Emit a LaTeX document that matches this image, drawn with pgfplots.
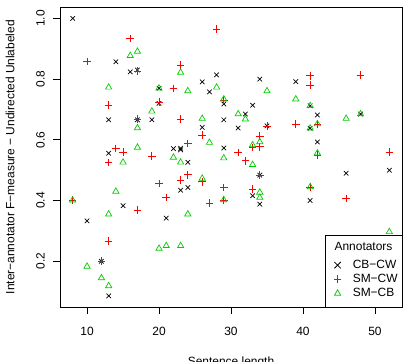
\documentclass[border=0pt]{standalone}
\usepackage{fontspec}
\setmainfont{Liberation Sans}
\usepackage{pgfplots}
\pgfplotsset{compat=1.18}
\definecolor{rgreen}{RGB}{0,205,0}
\definecolor{rred}{RGB}{255,0,0}

\begin{document}
\fontsize{12}{14}\selectfont
\begin{tikzpicture}
\begin{axis}[name=ax, at={(0,0)}, anchor=south west,
  scale only axis, width=342bp, height=299.7bp,
  xmin=6.24, xmax=53.76, ymin=0.0494, ymax=1.0366,
  xtick={10,20,30,40,50}, xticklabels={10,20,30,40,50},
  ytick={0.2,0.4,0.6,0.8,1.0}, yticklabels={0.2,0.4,0.6,0.8,1.0},
  tick pos=left, tick align=outside, major tick length=7bp,
  every tick/.style={black, line width=0.7bp},
  axis line style={line width=0.8bp},
  xticklabel style={font=\fontsize{12}{14}\selectfont, yshift=-9bp},
  yticklabel style={font=\fontsize{12}{14}\selectfont, rotate=90, anchor=south, yshift=4bp},
  xlabel={Sentence length},
  ylabel={Inter−annotator F−measure − Undirected Unlabeled},
  xlabel style={font=\fontsize{12}{14}\selectfont, at={(axis description cs:0.5,0)}, anchor=base, yshift=-59bp},
  ylabel style={font=\fontsize{12}{14}\selectfont, at={(axis description cs:-0.1462,0.5)}, anchor=center},
  legend style={draw=none, fill=none, at={(axis description cs:0.7901,0.0924)}, anchor=west,
    font=\fontsize{12}{14}\selectfont},
  legend cell align=left,
]
\addlegendimage{legend image code/.code={\draw[draw=black, line width=0.75bp] (0.3cm-3.2bp,-3.2bp) -- (0.3cm+3.2bp,3.2bp) (0.3cm-3.2bp,3.2bp) -- (0.3cm+3.2bp,-3.2bp); \path (0.3cm-3.8bp,0bp) (0.3cm+3.8bp,0bp);}}
\addlegendentry{\hspace{9bp}CB−CW}
\addlegendimage{legend image code/.code={\draw[draw=rred, line width=0.8bp] (0.3cm,-3.8bp) -- (0.3cm,3.8bp) (0.3cm-3.8bp,0bp) -- (0.3cm+3.8bp,0bp);}}
\addlegendentry{\hspace{9bp}SM−CW}
\addlegendimage{legend image code/.code={\draw[draw=rgreen, line width=0.75bp] (0.3cm,3.6bp) -- (0.3cm+3.118bp,-1.8bp) -- (0.3cm-3.118bp,-1.8bp) -- cycle; \path (0.3cm-3.8bp,0bp) (0.3cm+3.8bp,0bp);}}
\addlegendentry{\hspace{9bp}SM−CB}
\addplot[forget plot, only marks, color=black, mark=x, mark size=3.2bp, line width=0.7bp] table {
x y
8 1.0
14 0.857
16 0.824
17 0.83
20 0.77
20 0.72
13 0.666
17 0.666
19 0.666
13 0.556
15 0.383
10 0.333
21 0.342
12 0.2
13 0.086
23 0.434
24 0.443
34 0.484
33 0.416
34 0.388
22 0.571
23 0.567
23 0.572
24 0.526
28 0.814
26 0.791
34 0.80
27 0.758
29 0.718
33 0.714
29 0.666
32 0.685
35 0.646
26 0.641
31 0.639
29 0.573
39 0.792
41 0.712
42 0.682
48 0.685
41 0.638
42 0.593
46 0.49
52 0.50
41 0.40
};
\addplot[forget plot, only marks, color=rred, mark=+, mark size=3.8bp, line width=0.7bp] table {
x y
16 0.934
10 0.858
17 0.827
20 0.725
13 0.714
17 0.668
14 0.572
15 0.56
19 0.547
13 0.526
20 0.456
21 0.41
8 0.401
17 0.368
13 0.267
12 0.2
23 0.467
24 0.485
26 0.462
27 0.391
29 0.443
29 0.402
33 0.438
34 0.484
32 0.531
31 0.558
28 0.965
23 0.847
22 0.769
29 0.73
23 0.668
35 0.646
26 0.616
34 0.613
24 0.588
33 0.575
34 0.577
48 0.813
41 0.811
41 0.78
39 0.652
42 0.652
42 0.55
52 0.56
41 0.445
46 0.407
};
\addplot[forget plot, only marks, color=rgreen, mark=triangle, mark size=3.6bp, line width=0.7bp] table {
x y
16 0.877
17 0.891
13 0.773
20 0.77
19 0.694
17 0.639
17 0.575
15 0.526
14 0.43
8 0.401
13 0.355
20 0.242
21 0.251
10 0.183
12 0.145
13 0.119
23 0.251
24 0.355
26 0.473
29 0.402
34 0.427
34 0.41
33 0.518
29 0.54
22 0.542
23 0.526
23 0.822
24 0.761
28 0.773
35 0.761
29 0.734
26 0.67
31 0.685
32 0.668
27 0.591
33 0.583
34 0.593
39 0.734
41 0.712
46 0.67
48 0.685
41 0.638
42 0.652
42 0.556
41 0.445
52 0.297
};
\end{axis}
\draw[line width=0.7bp] ([xshift=-77bp]ax.south east) rectangle ([yshift=72bp]ax.south east);
\node[anchor=base, font=\fontsize{12}{14}\selectfont] at ([xshift=-38.5bp, yshift=56bp]ax.south east) {Annotators};
\pgfresetboundingbox
\useasboundingbox ([xshift=-60bp, yshift=-55bp]ax.south west) rectangle ([xshift=4bp, yshift=7.3bp]ax.north east);
\end{tikzpicture}
\end{document}
